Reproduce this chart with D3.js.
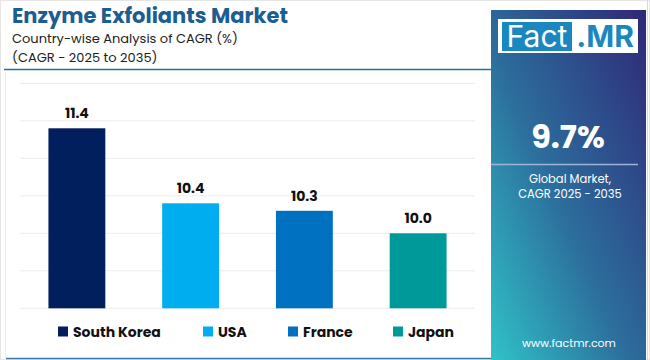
<!DOCTYPE html>
<html><head><meta charset="utf-8">
<script src="https://cdn.jsdelivr.net/npm/d3@7"></script>
<style>body{margin:0;background:#fff;}svg{display:block;font-family:Poppins,Inter,"Noto Sans",sans-serif;}</style>
</head><body><svg id="c" width="650" height="360"></svg>
<script>
const categories = ["South Korea", "USA", "France", "Japan"];
const values = [11.4, 10.4, 10.3, 10.0];
const colors = ["#001f5c", "#00aeef", "#0070c0", "#009999"];
const yTicks = [9, 9.5, 10, 10.5, 11, 11.5, 12];
const title = "Enzyme Exfoliants Market";
const subtitle1 = "Country-wise Analysis of CAGR (%)";
const subtitle2 = "(CAGR - 2025 to 2035)";
const globalValue = "9.7%";
const globalLabel = ["Global Market,", "CAGR 2025 - 2035"];

const svg = d3.select("#c");
const defs = svg.append("defs");
const g = defs.append("linearGradient").attr("id","pg").attr("x1","0%").attr("y1","100%").attr("x2","100%").attr("y2","0%");
g.append("stop").attr("offset","0%").attr("stop-color","#30c2c8");
g.append("stop").attr("offset","45%").attr("stop-color","#2c6d9c");
g.append("stop").attr("offset","100%").attr("stop-color","#2f2877");

svg.append("rect").attr("x",0.5).attr("y",0.5).attr("width",649).attr("height",359).attr("fill","none").attr("stroke","#e6e6e6");

svg.append("text").attr("x",12).attr("y",22.5).attr("font-size",21).attr("font-weight",700).attr("fill","#1b5e93").text(title);
svg.append("text").attr("x",12).attr("y",43).attr("font-size",13).attr("fill","#222").text(subtitle1);
svg.append("text").attr("x",12).attr("y",61.5).attr("font-size",13).attr("fill","#222").text(subtitle2);
svg.append("line").attr("x1",4).attr("x2",492).attr("y1",69.5).attr("y2",69.5).attr("stroke","#2b6f9c").attr("stroke-width",1.5);

svg.append("line").attr("x1",6).attr("x2",492).attr("y1",358.5).attr("y2",358.5).attr("stroke","#3d7aa8").attr("stroke-width",1.5);
svg.append("line").attr("x1",5.5).attr("x2",5.5).attr("y1",72).attr("y2",358).attr("stroke","#ececec");

svg.append("rect").attr("x",491).attr("y",10).attr("width",155).attr("height",350).attr("fill","url(#pg)");
svg.append("line").attr("x1",647.5).attr("x2",647.5).attr("y1",0).attr("y2",360).attr("stroke","#d8d8d8");
svg.append("rect").attr("x",498).attr("y",19).attr("width",140).attr("height",34).attr("fill","#fff");
svg.append("rect").attr("x",502).attr("y",22).attr("width",70).attr("height",29).attr("fill","#1b87bf");
svg.append("text").attr("x",537).attr("y",47).attr("text-anchor","middle").attr("font-size",30).attr("fill","#fff").attr("font-family","Inter,'Noto Sans',sans-serif").text("Fact");
svg.append("text").attr("x",605).attr("y",47).attr("text-anchor","middle").attr("font-size",30).attr("font-weight",700).attr("fill","#1b87bf").attr("font-family","Inter,'Noto Sans',sans-serif").text(".MR");
svg.append("text").attr("x",568).attr("y",148).attr("text-anchor","middle").attr("font-size",32).attr("font-weight",700).attr("fill","#fff").text(globalValue);
svg.append("line").attr("x1",491).attr("x2",638).attr("y1",164.5).attr("y2",164.5).attr("stroke","#9fb2dc").attr("stroke-width",1.5);
globalLabel.forEach((t,i)=>svg.append("text").attr("x",570).attr("y",182.5+i*15.5).attr("text-anchor","middle").attr("font-size",11.5).attr("fill","#fff").text(t));
svg.append("text").attr("x",569).attr("y",347).attr("text-anchor","middle").attr("font-size",11).attr("fill","#fff").text("www.factmr.com");

const x = d3.scaleBand().domain(categories).range([20,475]).paddingInner(0.5).paddingOuter(0.25);
const y = d3.scaleLinear().domain([9,12]).range([308.3,83.3]);

svg.append("g").selectAll("line").data(yTicks).join("line")
  .attr("x1",20).attr("x2",475).attr("y1",d=>y(d)).attr("y2",d=>y(d))
  .attr("stroke","#ececec").attr("stroke-width",1);

svg.append("g").selectAll("rect").data(values).join("rect")
  .attr("x",(d,i)=>x(categories[i])).attr("width",x.bandwidth())
  .attr("y",d=>y(d)).attr("height",d=>y(9)-y(d))
  .attr("fill",(d,i)=>colors[i]);

svg.append("g").selectAll("text").data(values).join("text")
  .attr("x",(d,i)=>x(categories[i])+x.bandwidth()/2).attr("y",d=>y(d)-10)
  .attr("text-anchor","middle").attr("font-size",14).attr("font-weight",700).attr("fill","#111")
  .text(d=>d.toFixed(1));

const legX = [58, 203, 288, 393];
const leg = svg.append("g");
categories.forEach((c,i)=>{
  leg.append("rect").attr("x",legX[i]).attr("y",326.5).attr("width",10).attr("height",10).attr("fill",colors[i]);
  leg.append("text").attr("x",legX[i]+15).attr("y",336.5).attr("font-size",14).attr("font-weight",700).attr("fill","#111").text(c);
});
</script></body></html>
